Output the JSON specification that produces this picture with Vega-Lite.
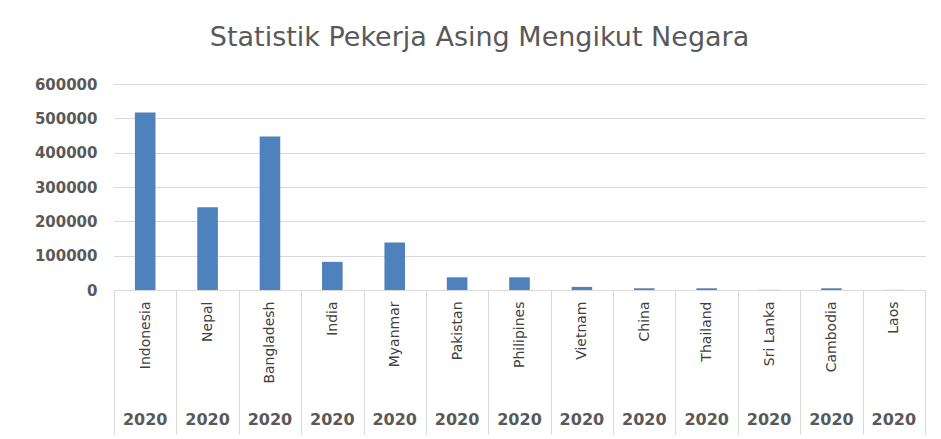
{
  "$schema": "https://vega.github.io/schema/vega-lite/v6.json",
  "width": 811,
  "height": 206,
  "autosize": {"type": "none"},
  "padding": {"left": 114, "top": 84, "right": 16, "bottom": 149},
  "background": "white",
  "config": {"view": {"stroke": null}},
  "title": {
    "text": "Statistik Pekerja Asing Mengikut Negara",
    "font": "DejaVu Sans",
    "fontSize": 27,
    "fontWeight": "normal",
    "color": "#595959",
    "anchor": "middle",
    "dx": -40,
    "offset": 25
  },
  "data": {
    "values": [
      {"country": "Indonesia", "year": "2020", "workers": 517000},
      {"country": "Nepal", "year": "2020", "workers": 241000},
      {"country": "Bangladesh", "year": "2020", "workers": 447000},
      {"country": "India", "year": "2020", "workers": 82000},
      {"country": "Myanmar", "year": "2020", "workers": 138000},
      {"country": "Pakistan", "year": "2020", "workers": 37000},
      {"country": "Philipines", "year": "2020", "workers": 37000},
      {"country": "Vietnam", "year": "2020", "workers": 9000},
      {"country": "China", "year": "2020", "workers": 5000},
      {"country": "Thailand", "year": "2020", "workers": 5000},
      {"country": "Sri Lanka", "year": "2020", "workers": 400},
      {"country": "Cambodia", "year": "2020", "workers": 5000},
      {"country": "Laos", "year": "2020", "workers": 300}
    ]
  },
  "transform": [{"calculate": "datum.country + '|' + datum.year", "as": "cat"}],
  "encoding": {
    "y": {
      "field": "workers",
      "type": "quantitative",
      "scale": {"domain": [0, 600000], "nice": false},
      "axis": {
        "title": null,
        "values": [0, 100000, 200000, 300000, 400000, 500000, 600000],
        "format": "d",
        "labelFont": "DejaVu Sans",
        "labelFontWeight": "bold",
        "labelFontSize": 15,
        "labelColor": "#595959",
        "labelPadding": 17,
        "ticks": false,
        "domain": false,
        "gridColor": "#d9d9d9"
      }
    }
  },
  "layer": [
    {
      "mark": {"type": "bar", "color": "#4f81bd", "width": {"band": 0.33}},
      "encoding": {
        "x": {
          "field": "cat",
          "type": "nominal",
          "sort": null,
          "scale": {"paddingInner": 0, "paddingOuter": 0},
          "axis": {
            "orient": "bottom",
            "title": null,
            "labelExpr": "split(datum.label, '|')[0]",
            "labelAngle": -90,
            "labelAlign": "right",
            "labelBaseline": "middle",
            "labelFont": "DejaVu Sans",
            "labelFontSize": 14,
            "labelColor": "#404040",
            "domainColor": "#d9d9d9",
            "tickColor": "#d9d9d9",
            "tickSize": 144,
            "tickBand": "extent",
            "labelPadding": -133,
            "labelLimit": 200
          }
        }
      }
    },
    {
      "mark": {"type": "bar", "opacity": 0, "width": {"band": 0.33}},
      "encoding": {
        "x": {
          "field": "cat",
          "type": "nominal",
          "sort": null,
          "axis": {
            "orient": "bottom",
            "title": null,
            "labelExpr": "split(datum.label, '|')[1]",
            "labelAngle": 0,
            "labelAlign": "center",
            "labelBaseline": "top",
            "labelFont": "DejaVu Sans",
            "labelFontWeight": "bold",
            "labelFontSize": 16,
            "labelColor": "#595959",
            "ticks": false,
            "domain": false,
            "labelPadding": 121
          }
        }
      }
    }
  ],
  "resolve": {"axis": {"x": "independent"}}
}
